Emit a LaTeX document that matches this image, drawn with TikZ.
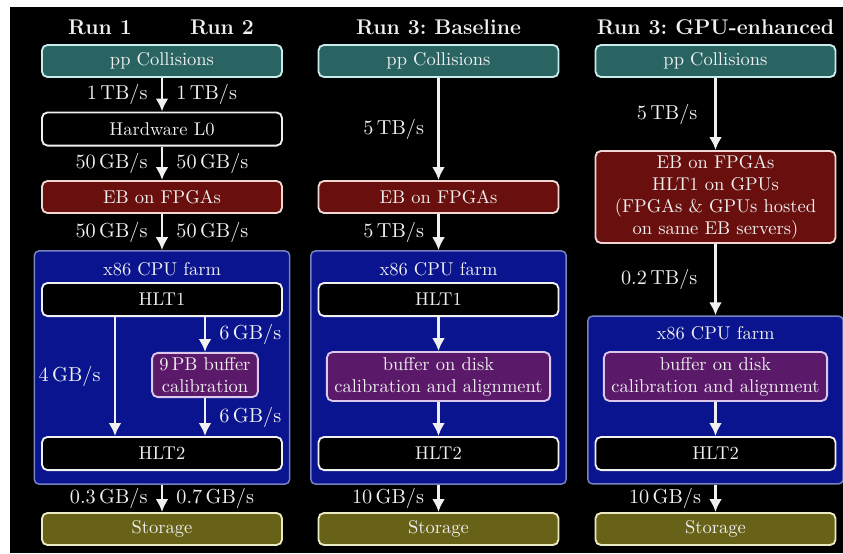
\documentclass[tikz,border=0pt]{standalone}
\usepackage{amsmath, amssymb}
\usepackage{tikz}
\usepackage{xcolor}
\usetikzlibrary{positioning,arrows.meta,calc}

\definecolor{fg}{RGB}{240,240,240}
\definecolor{collfill}{RGB}{42,100,98}
\definecolor{collline}{RGB}{200,235,235}
\definecolor{ebfill}{RGB}{105,16,14}
\definecolor{ebline}{RGB}{240,215,212}
\definecolor{farmfill}{RGB}{10,20,142}
\definecolor{farmline}{RGB}{120,130,190}
\definecolor{buffill}{RGB}{90,25,105}
\definecolor{bufline}{RGB}{220,200,235}
\definecolor{storefill}{RGB}{104,98,24}
\definecolor{storeline}{RGB}{235,235,195}

\tikzset{
  box/.style={draw, rounded corners=3pt, line width=1pt, text=fg, align=center,
    minimum width=4.56cm, minimum height=0.61cm, inner sep=2pt},
  collbox/.style={box, fill=collfill, draw=collline},
  trigbox/.style={box, fill=black, draw=fg, minimum height=0.63cm},
  ebbox/.style={box, fill=ebfill, draw=ebline},
  farmbox/.style={draw=farmline, fill=farmfill, rounded corners=2.5pt, line width=0.8pt,
    minimum width=4.85cm},
  bufbox/.style={box, fill=buffill, draw=bufline, minimum width=4.24cm, minimum height=0.93cm},
  storebox/.style={box, fill=storefill, draw=storeline},
  farmtitle/.style={text=fg},
  runhead/.style={text=fg, font=\fontsize{11.5}{13}\selectfont\bfseries},
  flow/.style={draw=fg, line width=1.6pt, -{Latex[length=7pt,width=7pt]}},
  rate/.style={text=fg, inner sep=1pt, font=\fontsize{11}{13}\selectfont},
}

\begin{document}
\begin{tikzpicture}[x=0.019cm, y=-0.019cm]
  \useasboundingbox (0,0) rectangle (843,553);
  \fill[white] (0,0) rectangle (843,553);
  \fill[black] (10,7) rectangle (843,553);

  % Run 1 / Run 2
  \node[runhead] (run1) at (100,27) {Run 1};
  \node[runhead] (run2) at (222,27) {Run 2};
  \node[collbox] (coll1) at (162,61) {pp Collisions};
  \node[trigbox] (l0) at (162,129) {Hardware L0};
  \node[ebbox] (eb1) at (162,197) {EB on FPGAs};
  \node[farmbox, minimum height=4.43cm] (farm1) at (162,367.5) {};
  \node[farmtitle] (ft1) at (162,269) {x86 CPU farm};
  \node[trigbox] (hlt1a) at (162,299.5) {HLT1};
  \node[bufbox, minimum width=2.01cm, minimum height=0.84cm] (buf1) at (205,375) {9\,PB buffer\\calibration};
  \node[trigbox] (hlt2a) at (162,453.5) {HLT2};
  \node[storebox] (store1) at (162,529) {Storage};

  \draw[flow] (coll1.south) -- (l0.north)
    node[rate, midway, left=6pt] {$1\,\mathrm{TB/s}$}
    node[rate, midway, right=6pt] {$1\,\mathrm{TB/s}$};
  \draw[flow] (l0.south) -- (eb1.north)
    node[rate, midway, left=6pt] {$50\,\mathrm{GB/s}$}
    node[rate, midway, right=6pt] {$50\,\mathrm{GB/s}$};
  \draw[flow] (eb1.south) -- (farm1.north)
    node[rate, midway, left=6pt] {$50\,\mathrm{GB/s}$}
    node[rate, midway, right=6pt] {$50\,\mathrm{GB/s}$};
  \draw[flow] ($(hlt1a.south)+(-47,0)$) -- ($(hlt2a.north)+(-47,0)$)
    node[rate, midway, left=6pt] {$4\,\mathrm{GB/s}$};
  \draw[flow] (buf1.north |- hlt1a.south) -- (buf1.north)
    node[rate, midway, right=6pt] {$6\,\mathrm{GB/s}$};
  \draw[flow] (buf1.south) -- (buf1.south |- hlt2a.north)
    node[rate, midway, right=6pt] {$6\,\mathrm{GB/s}$};
  \draw[flow] (farm1.south) -- (store1.north)
    node[rate, midway, left=6pt] {$0.3\,\mathrm{GB/s}$}
    node[rate, midway, right=6pt] {$0.7\,\mathrm{GB/s}$};

  % Run 3 baseline
  \node[runhead] (run3a) at (438.5,27) {Run 3:\ Baseline};
  \node[collbox] (coll2) at (438.5,61) {pp Collisions};
  \node[ebbox] (eb2) at (438.5,197) {EB on FPGAs};
  \node[farmbox, minimum height=4.43cm] (farm2) at (438.5,367.5) {};
  \node[farmtitle] (ft2) at (438.5,269) {x86 CPU farm};
  \node[trigbox] (hlt1b) at (438.5,299.5) {HLT1};
  \node[bufbox] (buf2) at (438.5,376.5) {buffer on disk\\calibration and alignment};
  \node[trigbox] (hlt2b) at (438.5,453.5) {HLT2};
  \node[storebox] (store2) at (438.5,529) {Storage};

  \draw[flow] (coll2.south) -- (eb2.north)
    node[rate, midway, left=6pt] {$5\,\mathrm{TB/s}$};
  \draw[flow] (eb2.south) -- (farm2.north)
    node[rate, midway, left=6pt] {$5\,\mathrm{TB/s}$};
  \draw[flow] (hlt1b.south) -- (buf2.north);
  \draw[flow] (buf2.south) -- (hlt2b.north);
  \draw[flow] (farm2.south) -- (store2.north)
    node[rate, midway, left=6pt] {$10\,\mathrm{GB/s}$};

  % Run 3 GPU-enhanced
  \node[runhead] (run3b) at (715.5,27) {Run 3:\ GPU-enhanced};
  \node[collbox] (coll3) at (715.5,61) {pp Collisions};
  \node[ebbox, minimum height=1.75cm] (eb3) at (715.5,197)
    {EB on FPGAs\\HLT1 on GPUs\\(FPGAs \& GPUs hosted\\on same EB servers)};
  \node[farmbox, minimum height=3.19cm] (farm3) at (715.5,400) {};
  \node[farmtitle] (ft3) at (715.5,333) {x86 CPU farm};
  \node[bufbox] (buf3) at (715.5,376.5) {buffer on disk\\calibration and alignment};
  \node[trigbox] (hlt2c) at (715.5,453.5) {HLT2};
  \node[storebox] (store3) at (715.5,529) {Storage};

  \draw[flow] (coll3.south) -- (eb3.north)
    node[rate, midway, left=8pt] {$5\,\mathrm{TB/s}$};
  \draw[flow] (eb3.south) -- (farm3.north)
    node[rate, midway, left=8pt] {$0.2\,\mathrm{TB/s}$};
  \draw[flow] (buf3.south) -- (hlt2c.north);
  \draw[flow] (farm3.south) -- (store3.north)
    node[rate, midway, left=6pt] {$10\,\mathrm{GB/s}$};
\end{tikzpicture}
\end{document}
